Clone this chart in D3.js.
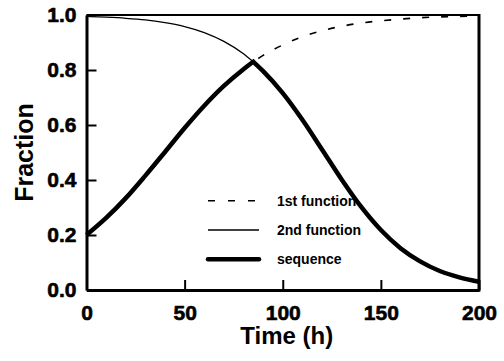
<!DOCTYPE html>
<html>
<head>
<meta charset="utf-8">
<script src="https://cdn.jsdelivr.net/npm/d3@7"></script>
<style>
  html, body { margin: 0; padding: 0; background: #fff; }
  svg { display: block; font-family: "Liberation Sans", Arial, sans-serif; }
  svg text { font-family: "Liberation Sans", Arial, sans-serif; font-weight: bold; fill: #000; }
</style>
</head>
<body>
<svg id="chart" width="504" height="361"></svg>
<script>
// Time grid (h)
const time = [0, 10, 20, 30, 40, 50, 60, 70, 80, 90, 100, 110, 120, 130, 140, 150, 160, 170, 180, 190, 200];
// Rising curve
const firstFunction = [0.200, 0.262, 0.334, 0.416, 0.502, 0.589, 0.670, 0.742, 0.803, 0.853, 0.891,
                       0.921, 0.943, 0.959, 0.971, 0.979, 0.985, 0.990, 0.993, 0.995, 0.996];
// Falling curve
const secondFunction = [0.995, 0.992, 0.988, 0.982, 0.972, 0.958, 0.936, 0.904, 0.859, 0.796, 0.716,
                        0.619, 0.511, 0.402, 0.302, 0.218, 0.152, 0.104, 0.069, 0.046, 0.030];
// Point where the sequence hands over from the first to the second function
const switchTime = 85;
const switchValue = 0.83;

const xTicks = [0, 50, 100, 150, 200];
const yTicks = [0.0, 0.2, 0.4, 0.6, 0.8, 1.0];
const legendLabels = ["1st function", "2nd function", "sequence"];

const svg = d3.select("#chart");
const x = d3.scaleLinear().domain([0, 200]).range([86.5, 479]);
const y = d3.scaleLinear().domain([0, 1]).range([290, 15]);

// Axes with inward ticks
const yAxis = svg.append("g")
  .attr("transform", `translate(${x(0)},0)`)
  .call(d3.axisLeft(y).tickValues(yTicks).tickSize(-10).tickSizeOuter(0)
    .tickPadding(10).tickFormat(d3.format(".1f")));
const xAxis = svg.append("g")
  .attr("transform", `translate(0,${y(0)})`)
  .call(d3.axisBottom(x).tickValues(xTicks).tickSize(-10).tickSizeOuter(0)
    .tickPadding(15).tickFormat(d3.format("d")));

[xAxis, yAxis].forEach(g => {
  g.attr("font-family", null).attr("font-size", null);
  g.select(".domain").attr("stroke", "#000").attr("stroke-width", 3);
  g.selectAll(".tick line").attr("stroke", "#000").attr("stroke-width", 2);
  g.selectAll(".tick text").style("font-size", "21px").style("font-weight", "bold")
    .attr("stroke", "#000").attr("stroke-width", 0.6).attr("stroke-linejoin", "round");
});

// Top and right frame
svg.append("line").attr("x1", x(0)).attr("x2", x(200)).attr("y1", y(1)).attr("y2", y(1))
  .attr("stroke", "#000").attr("stroke-width", 2);
svg.append("line").attr("x1", x(200)).attr("x2", x(200)).attr("y1", y(1) - 1).attr("y2", y(0) + 1.5)
  .attr("stroke", "#000").attr("stroke-width", 3);

// Axis titles
svg.append("text")
  .attr("x", (x(0) + x(200)) / 2 + 4).attr("y", 344)
  .attr("text-anchor", "middle").style("font-size", "24px")
  .text("Time (h)");
svg.append("text")
  .attr("transform", `translate(33,${(y(0) + y(1)) / 2}) rotate(-90)`)
  .attr("text-anchor", "middle").style("font-size", "25px")
  .text("Fraction");

// Legend
const legendStyles = [
  { width: 1.6, dash: "7,13", cap: "butt" },
  { width: 1.3, dash: null, cap: "butt" },
  { width: 4.5, dash: null, cap: "round" }
];
const legendY = d3.scalePoint().domain(legendLabels).range([200.7, 259.3]);
const legend = svg.append("g");
legendLabels.forEach((label, i) => {
  const s = legendStyles[i];
  legend.append("line")
    .attr("x1", 208).attr("x2", 259)
    .attr("y1", legendY(label)).attr("y2", legendY(label))
    .attr("stroke", "#000").attr("stroke-width", s.width)
    .attr("stroke-dasharray", s.dash).attr("stroke-linecap", s.cap);
  legend.append("text")
    .attr("x", 277).attr("y", legendY(label))
    .attr("dominant-baseline", "central")
    .style("font-size", "14px")
    .text(label);
});

// Curves
const line = d3.line().x(d => x(d[0])).y(d => y(d[1])).curve(d3.curveMonotoneX);
const firstPts = time.map((t, i) => [t, firstFunction[i]]);
const secondPts = time.map((t, i) => [t, secondFunction[i]]);

svg.append("path").attr("d", line(firstPts))
  .attr("fill", "none").attr("stroke", "#000").attr("stroke-width", 1.6)
  .attr("stroke-dasharray", "7,12");
svg.append("path").attr("d", line(secondPts))
  .attr("fill", "none").attr("stroke", "#000").attr("stroke-width", 1.3);

// Sequence: first function up to the switch, then the second function
const rising = firstPts.filter(d => d[0] < switchTime).concat([[switchTime, switchValue]]);
const falling = [[switchTime, switchValue]].concat(secondPts.filter(d => d[0] > switchTime));
const seqPath = line(rising) + line(falling).replace(/^M/, "L");
svg.append("path").attr("d", seqPath)
  .attr("fill", "none").attr("stroke", "#000").attr("stroke-width", 4.5)
  .attr("stroke-linejoin", "miter");
</script>
</body>
</html>
